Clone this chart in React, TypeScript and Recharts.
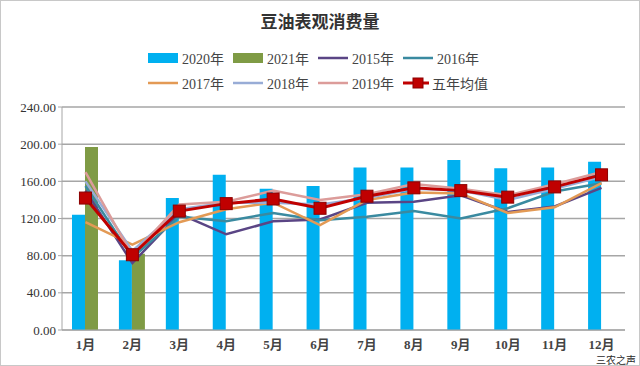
import { ComposedChart, Bar, Line, XAxis, YAxis, CartesianGrid } from 'recharts';

const months = ['1月', '2月', '3月', '4月', '5月', '6月', '7月', '8月', '9月', '10月', '11月', '12月'];
const y2020 = [124, 75, 142, 167, 152, 155, 175, 175, 183, 174, 175, 181];
const y2021 = [197, 82, null, null, null, null, null, null, null, null, null, null];
const y2015 = [150, 72, 125, 103, 117, 119, 137, 138, 145, 127, 133, 153];
const y2016 = [155, 78, 122, 117, 126, 118, 122, 128, 120, 131, 149, 158];
const y2017 = [116, 92, 116, 130, 137, 113, 140, 148, 147, 126, 132, 158];
const y2018 = [160, 85, 130, 137, 137, 135, 142, 152, 150, 140, 152, 165];
const y2019 = [170, 80, 135, 138, 150, 140, 146, 157, 152, 145, 157, 170];
const avg5 = [142, 81, 128, 136, 141, 131, 144, 153, 150, 143, 154, 167];
const yTicks = [0, 40, 80, 120, 160, 200, 240];

const data = months.map((m, i) => ({
  month: m,
  y2020: y2020[i],
  y2021: y2021[i],
  y2015: y2015[i],
  y2016: y2016[i],
  y2017: y2017[i],
  y2018: y2018[i],
  y2019: y2019[i],
  avg5: avg5[i],
}));

const C = {
  y2020: '#00b0f0',
  y2021: '#7f9b45',
  y2015: '#5a4585',
  y2016: '#3a8aa0',
  y2017: '#e39a55',
  y2018: '#98acd6',
  y2019: '#dc9c9a',
  avg5: '#c00000',
};

const legendRows = [
  [
    { key: 'y2020', label: '2020年', type: 'bar' },
    { key: 'y2021', label: '2021年', type: 'bar' },
    { key: 'y2015', label: '2015年', type: 'line' },
    { key: 'y2016', label: '2016年', type: 'line' },
  ],
  [
    { key: 'y2017', label: '2017年', type: 'line' },
    { key: 'y2018', label: '2018年', type: 'line' },
    { key: 'y2019', label: '2019年', type: 'line' },
    { key: 'avg5', label: '五年均值', type: 'avg' },
  ],
];

const FONT = '"Liberation Serif", "Noto Sans CJK SC", serif';

function LegendBox() {
  return (
    <div style={{ position: 'absolute', top: 45, left: 0, width: 640, fontFamily: FONT, fontSize: 14, color: '#444' }}>
      {legendRows.map((row, r) => (
        <div key={r} style={{ display: 'flex', height: 25, paddingLeft: 148 }}>
          {row.map((it) => (
            <div key={it.key} style={{ display: 'flex', alignItems: 'center', width: 85, whiteSpace: 'nowrap' }}>
              <svg width={31} height={12} style={{ marginRight: 3 }}>
                {it.type === 'bar' ? (
                  <rect x={0} y={1} width={30} height={10} fill={C[it.key as keyof typeof C]} />
                ) : (
                  <line x1={0} x2={30} y1={6} y2={6} stroke={C[it.key as keyof typeof C]} strokeWidth={it.type === 'avg' ? 3 : 2.5} />
                )}
                {it.type === 'avg' && <rect x={10} y={1} width={10} height={10} fill={C.avg5} stroke="#8b0000" />}
              </svg>
              <span>{it.label}</span>
            </div>
          ))}
        </div>
      ))}
    </div>
  );
}

function SquareDot(props: { cx?: number; cy?: number; index?: number }) {
  const { cx, cy, index } = props;
  if (cx == null || cy == null) return null;
  return <rect key={index} x={cx - 6} y={cy - 6} width={12} height={12} fill={C.avg5} stroke="#8b0000" strokeWidth={1} />;
}

export default function App() {
  return (
    <div style={{ position: 'absolute', left: 0, top: 0, width: 640, height: 366, background: '#fff', overflow: 'hidden' }}>
      <div style={{ position: 'absolute', inset: 0, border: '1px solid #c8c8c8', boxSizing: 'border-box', pointerEvents: 'none' }} />
      <div
        style={{
          position: 'absolute',
          top: 8,
          width: 640,
          textAlign: 'center',
          fontFamily: '"Noto Sans CJK SC", serif',
          fontWeight: 'bold',
          fontSize: 17,
          color: '#333',
        }}
      >
        豆油表观消费量
      </div>
      <LegendBox />
      <ComposedChart
        width={640}
        height={366}
        data={data}
        margin={{ top: 107, right: 15, bottom: 11, left: 0 }}
        barGap={0}
        barCategoryGap="22%"
        style={{ position: 'absolute', left: 0, top: 0 }}
      >
        <CartesianGrid vertical={false} stroke="#a6a6a6" strokeWidth={1.5} />
        <XAxis
          dataKey="month"
          tickLine={false}
          axisLine={{ stroke: '#a6a6a6' }}
          tick={{ fontFamily: FONT, fontSize: 13, fill: '#444', fontWeight: 'bold' }}
          height={25}
          tickMargin={4}
        />
        <YAxis
          width={62}
          domain={[0, 240]}
          ticks={yTicks}
          tickFormatter={(v: number) => v.toFixed(2)}
          axisLine={{ stroke: '#a6a6a6' }}
          tickLine={{ stroke: '#a6a6a6' }}
          tickSize={4}
          tick={{ fontFamily: FONT, fontSize: 13, fill: '#333' }}
          interval={0}
        />
        <Bar dataKey="y2020" fill={C.y2020} barSize={13} isAnimationActive={false} />
        <Bar dataKey="y2021" fill={C.y2021} barSize={13} isAnimationActive={false} />
        <Line dataKey="y2015" stroke={C.y2015} strokeWidth={2.5} dot={false} isAnimationActive={false} />
        <Line dataKey="y2016" stroke={C.y2016} strokeWidth={2.5} dot={false} isAnimationActive={false} />
        <Line dataKey="y2017" stroke={C.y2017} strokeWidth={2.5} dot={false} isAnimationActive={false} />
        <Line dataKey="y2018" stroke={C.y2018} strokeWidth={2.5} dot={false} isAnimationActive={false} />
        <Line dataKey="y2019" stroke={C.y2019} strokeWidth={2.5} dot={false} isAnimationActive={false} />
        <Line dataKey="avg5" stroke={C.avg5} strokeWidth={3} dot={<SquareDot />} isAnimationActive={false} />
      </ComposedChart>
      <div
        style={{
          position: 'absolute',
          right: 4,
          bottom: 1,
          fontFamily: '"Noto Sans CJK SC", sans-serif',
          fontSize: 10,
          lineHeight: '10px',
          color: '#2a2a2a',
        }}
      >
        三农之声
      </div>
    </div>
  );
}
